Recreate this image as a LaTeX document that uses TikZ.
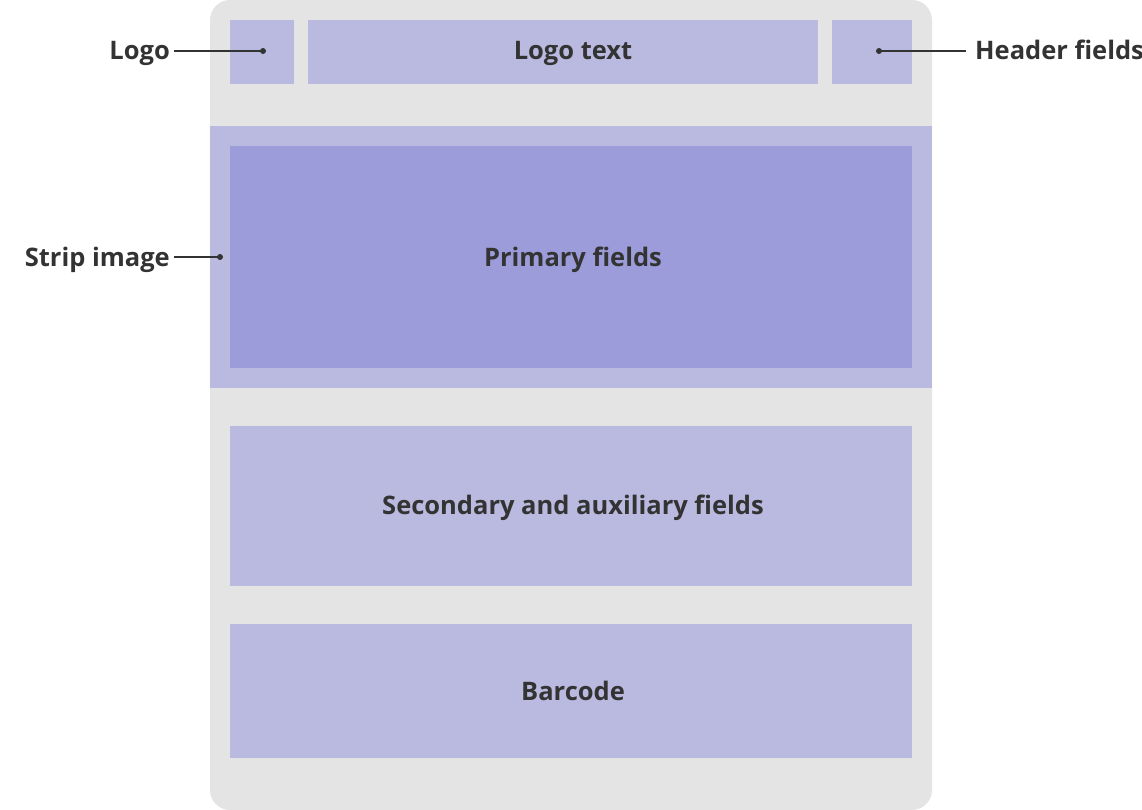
\documentclass[tikz,border=0pt]{standalone}
\usepackage{fontspec}
\setmainfont{Open Sans}
\definecolor{cardgray}{HTML}{E4E4E4}
\definecolor{lightpurple}{HTML}{BABAE0}
\definecolor{darkpurple}{HTML}{9D9CDB}
\definecolor{ink}{HTML}{333333}
\begin{document}
\begin{tikzpicture}[x=1pt,y=-1pt,
  lbl/.style={font=\fontsize{25.5}{30}\selectfont\bfseries,text=ink,inner sep=0pt},
  leader/.style={draw=ink,line width=2pt},
  dot/.style={circle,fill=ink,inner sep=0pt,minimum size=6pt}]
\useasboundingbox (0,0) rectangle (1142,810);
% card
\fill[cardgray,rounded corners=20pt] (210,0) rectangle (932,810);
% header row
\fill[lightpurple] (230,20) rectangle (294,84);
\fill[lightpurple] (308,20) rectangle (818,84);
\fill[lightpurple] (832,20) rectangle (912,84);
\node[lbl,anchor=base] (logotext) at (573,60) {Logo text};
% strip
\fill[lightpurple] (210,126) rectangle (932,388);
\fill[darkpurple] (230,146) rectangle (912,368);
\node[lbl,anchor=base] (primary) at (573,266) {Primary fields};
% secondary
\fill[lightpurple] (230,426) rectangle (912,586);
\node[lbl,anchor=base] (secondary) at (573,514) {Secondary and auxiliary fields};
% barcode
\fill[lightpurple] (230,624) rectangle (912,758);
\node[lbl,anchor=base] (barcode) at (573,700) {Barcode};
% callouts
\node[dot] (logodot) at (263,51) {};
\node[lbl,anchor=base east] (logo) at (170,60) {Logo};
\coordinate (logoend) at (174,51);
\draw[leader] (logoend) -- (logodot.center);
\node[dot] (headerdot) at (879,51) {};
\node[lbl,anchor=base west] (header) at (975,60) {Header fields};
\coordinate (headerend) at (966,51);
\draw[leader] (headerdot.center) -- (headerend);
\node[dot] (stripdot) at (220,257) {};
\node[lbl,anchor=base east] (strip) at (170,266) {Strip image};
\coordinate (stripend) at (174,257);
\draw[leader] (stripend) -- (stripdot.center);
\end{tikzpicture}
\end{document}
